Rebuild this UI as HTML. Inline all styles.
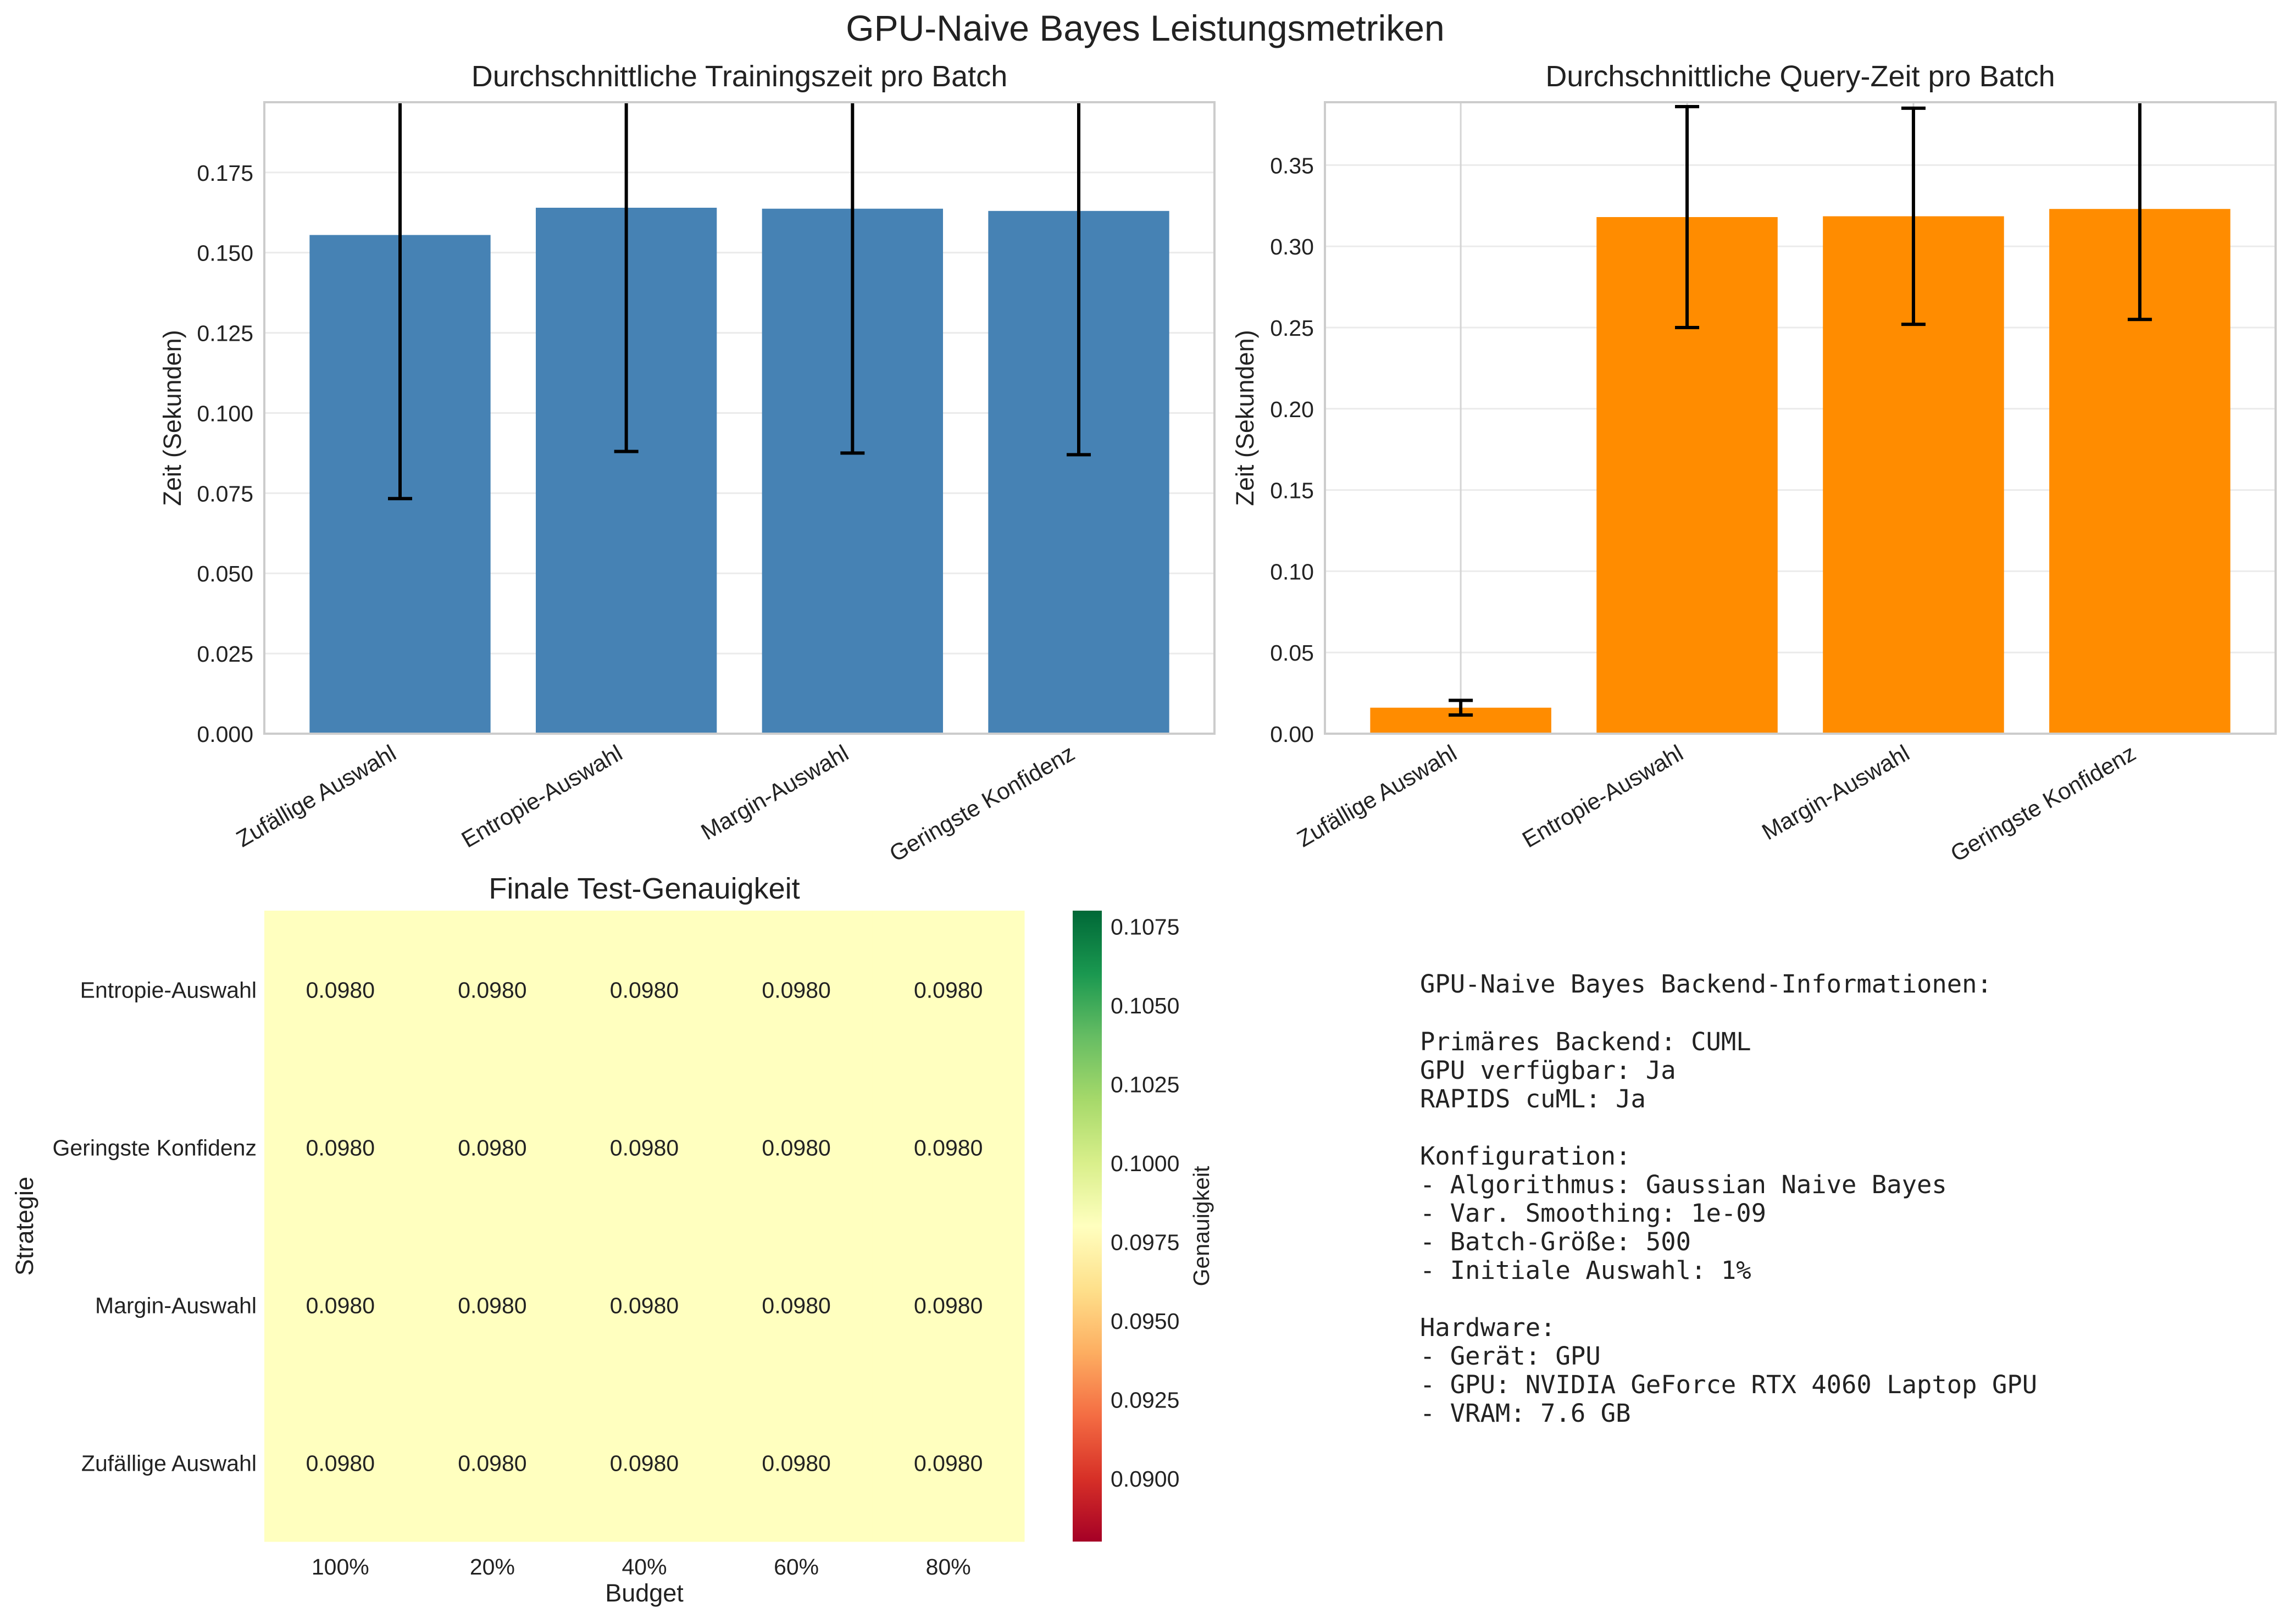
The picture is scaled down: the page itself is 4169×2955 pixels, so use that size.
<!DOCTYPE html>
<html><head><meta charset="utf-8"><style>
html,body{margin:0;padding:0;background:#fff}
svg{display:block;font-family:"Liberation Sans",sans-serif}
</style></head><body>
<svg id="chart" xmlns="http://www.w3.org/2000/svg" width="4169" height="2955" viewBox="0 0 4169 2955">
<rect width="4169" height="2955" fill="#fff"/>
<text x="2084" y="74" font-size="66" text-anchor="middle" fill="#222">GPU-Naive Bayes Leistungsmetriken</text>
<g id="p1"></g><g id="p2"></g><g id="p3"></g>
<g font-family="'DejaVu Sans Mono','Liberation Mono',monospace" font-size="45.5" fill="#222">
<text x="2584" y="1806">GPU-Naive Bayes Backend-Informationen:</text>
<text x="2584" y="1911">Primäres Backend: CUML</text>
<text x="2584" y="1963">GPU verfügbar: Ja</text>
<text x="2584" y="2015">RAPIDS cuML: Ja</text>
<text x="2584" y="2119">Konfiguration:</text>
<text x="2584" y="2171">- Algorithmus: Gaussian Naive Bayes</text>
<text x="2584" y="2223">- Var. Smoothing: 1e-09</text>
<text x="2584" y="2275">- Batch-Größe: 500</text>
<text x="2584" y="2327">- Initiale Auswahl: 1%</text>
<text x="2584" y="2431">Hardware:</text>
<text x="2584" y="2483">- Gerät: GPU</text>
<text x="2584" y="2535">- GPU: NVIDIA GeForce RTX 4060 Laptop GPU</text>
<text x="2584" y="2587">- VRAM: 7.6 GB</text>
</g>
</svg>
<script>
const categories = ["Zufällige Auswahl","Entropie-Auswahl","Margin-Auswahl","Geringste Konfidenz"];
const trainValues = [0.1555, 0.1640, 0.1637, 0.1630];
const trainErrors = [0.0822, 0.0760, 0.0762, 0.0760];
const trainTicks = [0, 0.025, 0.05, 0.075, 0.1, 0.125, 0.15, 0.175];
const trainTickLabels = ["0.000","0.025","0.050","0.075","0.100","0.125","0.150","0.175"];
const queryValues = [0.0160, 0.3180, 0.3185, 0.3230];
const queryErrors = [0.0045, 0.0680, 0.0665, 0.0680];
const queryTicks = [0, 0.05, 0.1, 0.15, 0.2, 0.25, 0.3, 0.35];
const queryTickLabels = ["0.00","0.05","0.10","0.15","0.20","0.25","0.30","0.35"];
const heatRows = ["Entropie-Auswahl","Geringste Konfidenz","Margin-Auswahl","Zufällige Auswahl"];
const heatCols = ["100%","20%","40%","60%","80%"];
const heatValues = [
 [0.0980,0.0980,0.0980,0.0980,0.0980],
 [0.0980,0.0980,0.0980,0.0980,0.0980],
 [0.0980,0.0980,0.0980,0.0980,0.0980],
 [0.0980,0.0980,0.0980,0.0980,0.0980]];
const cbarTicks = [0.09,0.0925,0.095,0.0975,0.1,0.1025,0.105,0.1075];
const cbarTickLabels = ["0.0900","0.0925","0.0950","0.0975","0.1000","0.1025","0.1050","0.1075"];

const NS="http://www.w3.org/2000/svg";
function mk(tag,attrs,parent,txt){const e=document.createElementNS(NS,tag);for(const k in attrs)e.setAttribute(k,attrs[k]);if(txt!==undefined)e.textContent=txt;parent.appendChild(e);return e;}

function barChart(g,opt){
  const L=opt.L,R=opt.R,T=186,B=1335;
  const y=v=>B-(v-0)/(opt.ymax)*(B-T);
  const n=categories.length, span=n-1+1.2;
  const x=i=>L+(i+0.6)/span*(R-L);
  const bw=0.8/span*(R-L);
  mk('text',{x:(L+R)/2,y:157,'font-size':54,'text-anchor':'middle',fill:'#222'},g,opt.title);
  opt.ticks.forEach((t,i)=>{
    const l=mk('line',{x1:L,x2:R,y1:y(t),y2:y(t),stroke:'#ebebeb','stroke-width':3},g);
    
    
    const tx=mk('text',{x:L-20,y:y(t)+15,'font-size':41,'text-anchor':'end',fill:'#222'},g,opt.labels[i]);
    
    
  });
  categories.forEach((c,i)=>{
    const gl=mk('line',{x1:x(i),x2:x(i),y1:T,y2:B,stroke:'#d4d4d4','stroke-width':3},g);
    
    
  });
  categories.forEach((c,i)=>{
    const v=opt.values[i],e=opt.errors[i];
    const r=mk('rect',{x:x(i)-bw/2,y:y(v),width:bw,height:B-y(v),fill:opt.color},g);
    
    
    const lo=y(v-e),hiV=v+e,hi=Math.max(T,y(hiV));
    const eb=mk('g',{stroke:'#000','stroke-width':6},g);
    
    
    mk('line',{x1:x(i),x2:x(i),y1:lo,y2:hi},eb);
    mk('line',{x1:x(i)-22,x2:x(i)+22,y1:lo,y2:lo},eb);
    if(hiV<=opt.ymax) mk('line',{x1:x(i)-22,x2:x(i)+22,y1:hi,y2:hi},eb);
    const t=mk('text',{transform:`translate(${x(i)-4},${B+44}) rotate(-30)`,'font-size':42,'text-anchor':'end',fill:'#222'},g,c);
    
    
  });
  const fr=mk('rect',{x:L,y:T,width:R-L,height:B-T,fill:'none',stroke:'#cccccc','stroke-width':4},g);
  
  
  const yl=mk('text',{transform:`translate(${L-opt.lab},${(T+B)/2}) rotate(-90)`,'font-size':45,'text-anchor':'middle',fill:'#222'},g,'Zeit (Sekunden)');
  
  
}
const p1=document.getElementById('p1');


barChart(p1,{L:481,R:2210,lab:152,ymax:0.1969,ticks:trainTicks,labels:trainTickLabels,values:trainValues,errors:trainErrors,color:'#4682b4',title:'Durchschnittliche Trainingszeit pro Batch'});
const p2=document.getElementById('p2');


barChart(p2,{L:2411,R:4141,lab:130,ymax:0.3887,ticks:queryTicks,labels:queryTickLabels,values:queryValues,errors:queryErrors,color:'#ff8c00',title:'Durchschnittliche Query-Zeit pro Batch'});

const p3=document.getElementById('p3');


const HL=481,HR=1864,HT=1657,HB=2805,cmin=0.0880,cmax=0.1080;
const stops=[[0,'#a50026'],[0.1,'#d73027'],[0.2,'#f46d43'],[0.3,'#fdae61'],[0.4,'#fee08b'],[0.5,'#ffffbf'],[0.6,'#d9ef8b'],[0.7,'#a6d96a'],[0.8,'#66bd63'],[0.9,'#1a9850'],[1,'#006837']];
function hex(h){return [1,3,5].map(i=>parseInt(h.substr(i,2),16));}
function cmap(v){let t=Math.max(0,Math.min(1,(v-cmin)/(cmax-cmin)));for(let i=1;i<stops.length;i++){if(t<=stops[i][0]){const a=hex(stops[i-1][1]),b=hex(stops[i][1]),f=(t-stops[i-1][0])/(stops[i][0]-stops[i-1][0]);return 'rgb('+a.map((x,k)=>Math.round(x+(b[k]-x)*f)).join(',')+')';}}return stops[10][1];}
const cw=(HR-HL)/heatCols.length,ch=(HB-HT)/heatRows.length;
mk('text',{x:(HL+HR)/2,y:1635,'font-size':54,'text-anchor':'middle',fill:'#222'},p3,'Finale Test-Genauigkeit');
heatRows.forEach((r,i)=>{
  heatCols.forEach((c,j)=>{
    const cell=mk('rect',{x:HL+j*cw,y:HT+i*ch,width:cw+0.5,height:ch+0.5,fill:cmap(heatValues[i][j])},p3);
    
    
    const t=mk('text',{x:HL+(j+0.5)*cw,y:HT+(i+0.5)*ch+15,'font-size':41,'text-anchor':'middle',fill:'#222'},p3,heatValues[i][j].toFixed(4));
    
    
  });
  const rl=mk('text',{x:HL-14,y:HT+(i+0.5)*ch+15,'font-size':41,'text-anchor':'end',fill:'#222'},p3,r);
  
  
});
heatCols.forEach((c,j)=>{
  const t=mk('text',{x:HL+(j+0.5)*cw,y:HB+60,'font-size':41,'text-anchor':'middle',fill:'#222'},p3,c);
  
  
});
const xt=mk('text',{x:(HL+HR)/2,y:2914,'font-size':45,'text-anchor':'middle',fill:'#222'},p3,'Budget');


const ytt=mk('text',{transform:`translate(60,${(HT+HB)/2}) rotate(-90)`,'font-size':45,'text-anchor':'middle',fill:'#222'},p3,'Strategie');


const CL=1952,CR=2005;
const defs=mk('defs',{},p3);
const lg=mk('linearGradient',{id:'cb',x1:0,y1:1,x2:0,y2:0},defs);
stops.forEach(s=>mk('stop',{offset:s[0],'stop-color':s[1]},lg));
const cb=mk('rect',{x:CL,y:HT,width:CR-CL,height:HB-HT,fill:'url(#cb)'},p3);


const cy=v=>HB-(v-cmin)/(cmax-cmin)*(HB-HT);
cbarTicks.forEach((t,i)=>{
  const l=mk('text',{x:CR+16,y:cy(t)+15,'font-size':41,fill:'#222'},p3,cbarTickLabels[i]);
  
  
});
const cbt=mk('text',{transform:`translate(2200,${(HT+HB)/2}) rotate(-90)`,'font-size':41,'text-anchor':'middle',fill:'#222'},p3,'Genauigkeit');


</script>
</body></html>
